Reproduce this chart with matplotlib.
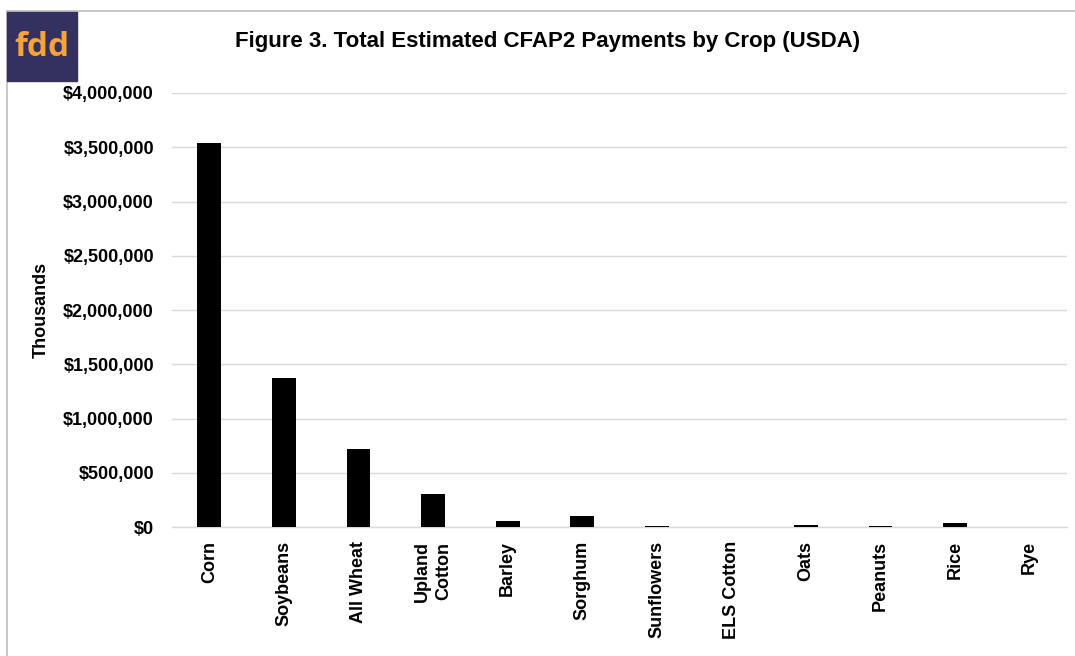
import matplotlib.pyplot as plt
from matplotlib.patches import Rectangle
from matplotlib.lines import Line2D
from matplotlib.ticker import FuncFormatter

crops = ['Corn', 'Soybeans', 'All Wheat', 'Upland\nCotton', 'Barley', 'Sorghum',
         'Sunflowers', 'ELS Cotton', 'Oats', 'Peanuts', 'Rice', 'Rye']
payments = [3540000, 1375000, 720000, 300000, 55000, 105000,
            9000, 2000, 20000, 8000, 37000, 1000]
yticks = [0, 500000, 1000000, 1500000, 2000000, 2500000, 3000000, 3500000, 4000000]

plt.rcParams['font.family'] = ['Liberation Sans', 'DejaVu Sans']
plt.rcParams['font.weight'] = 'bold'

fig = plt.figure(figsize=(10.75, 6.56), dpi=100)
ax = fig.add_axes([172 / 1075, 1 - 527 / 656, 895 / 1075, 434 / 656])

x = range(len(crops))
ax.bar(x, payments, width=0.32, color='black', zorder=3)
ax.set_xlim(-0.5, len(crops) - 0.5)
ax.set_ylim(0, 4000000)
ax.set_yticks(yticks)
ax.yaxis.set_major_formatter(FuncFormatter(lambda v, p: '${:,.0f}'.format(v)))
ax.set_xticks(list(x))
ax.set_xticklabels(crops, rotation=90, fontsize=13, fontweight='bold',
                   linespacing=1.3)
ax.tick_params(axis='y', length=0, pad=13, labelsize=13)
ax.tick_params(axis='x', length=0, pad=10)
for lab in ax.get_yticklabels():
    lab.set_fontweight('bold')
ax.grid(axis='y', color='#D9D9D9', linewidth=1.0, zorder=0)
for s in ['top', 'right', 'left']:
    ax.spines[s].set_visible(False)
ax.spines['bottom'].set_color('#D9D9D9')
ax.spines['bottom'].set_linewidth(1.0)
ax.set_ylabel('Thousands', fontsize=13, fontweight='bold', labelpad=10)

fig.text(548 / 1075, 1 - 42 / 656, 'Figure 3. Total Estimated CFAP2 Payments by Crop (USDA)',
         ha='center', va='center', fontsize=16, fontweight='bold')

# chart frame
fig.add_artist(Line2D([7 / 1075, 7 / 1075], [0, 1 - 11 / 656], color='#BFBFBF', lw=1.2))
fig.add_artist(Line2D([7 / 1075, 1], [1 - 11 / 656, 1 - 11 / 656], color='#BFBFBF', lw=1.2))

# logo
fig.add_artist(Rectangle((7 / 1075, 1 - 81 / 656), 70 / 1075, 69 / 656,
                         transform=fig.transFigure, color='#34305F', zorder=5))
fig.text(42 / 1075, 1 - 48 / 656, 'fdd', ha='center', va='center', fontsize=24,
         fontweight='bold', color='#F6A33A', family=['Open Sans', 'DejaVu Sans'], zorder=6)

fig.savefig('out.png', dpi=100)
